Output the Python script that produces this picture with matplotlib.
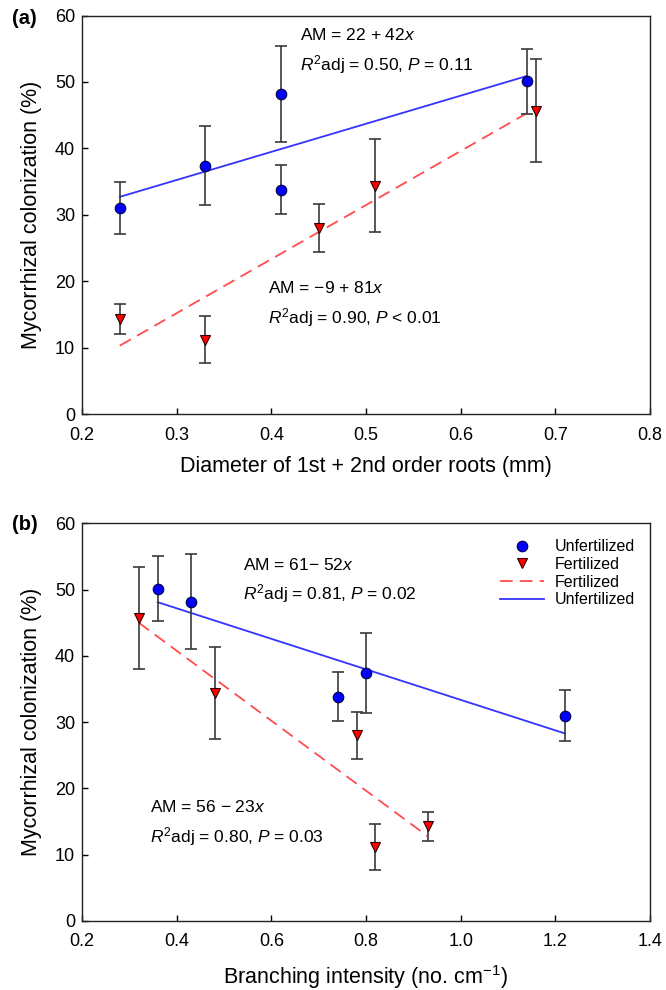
import matplotlib
matplotlib.use("Agg")
import matplotlib.pyplot as plt
from matplotlib.lines import Line2D

plt.rcParams['font.family'] = ['Liberation Sans', 'DejaVu Sans']
plt.rcParams['mathtext.fontset'] = 'custom'
plt.rcParams['mathtext.rm'] = 'Liberation Sans'
plt.rcParams['mathtext.it'] = 'Liberation Sans:italic'

# Panel (a): diameter of 1st + 2nd order roots
a_unf_x = [0.24, 0.33, 0.41, 0.41, 0.67]
a_unf_y = [31.0, 37.4, 48.2, 33.8, 50.1]
a_unf_err = [3.9, 6.0, 7.2, 3.7, 4.9]
a_fer_x = [0.24, 0.33, 0.45, 0.51, 0.68]
a_fer_y = [14.3, 11.2, 28.0, 34.4, 45.7]
a_fer_err = [2.2, 3.5, 3.6, 7.0, 7.7]
a_fit_unf_x = [0.24, 0.67]
a_fit_unf_y = [32.7, 50.9]
a_fit_fer_x = [0.24, 0.67]
a_fit_fer_y = [10.3, 45.3]

# Panel (b): branching intensity
b_unf_x = [0.36, 0.43, 0.74, 0.80, 1.22]
b_unf_y = [50.1, 48.2, 33.8, 37.4, 31.0]
b_unf_err = [4.9, 7.2, 3.7, 6.0, 3.9]
b_fer_x = [0.32, 0.48, 0.78, 0.82, 0.93]
b_fer_y = [45.7, 34.4, 28.0, 11.2, 14.3]
b_fer_err = [7.7, 7.0, 3.6, 3.5, 2.2]
b_fit_unf_x = [0.36, 1.22]
b_fit_unf_y = [48.1, 28.3]
b_fit_fer_x = [0.32, 0.93]
b_fit_fer_y = [45.0, 12.8]

a_xticks = [0.2, 0.3, 0.4, 0.5, 0.6, 0.7, 0.8]
a_xticklabels = ["0.2", "0.3", "0.4", "0.5", "0.6", "0.7", "0.8"]
b_xticks = [0.2, 0.4, 0.6, 0.8, 1.0, 1.2, 1.4]
b_xticklabels = ["0.2", "0.4", "0.6", "0.8", "1.0", "1.2", "1.4"]
yticks = [0, 10, 20, 30, 40, 50, 60]
legend_labels = ['Unfertilized', 'Fertilized', 'Fertilized', 'Unfertilized']

fig = plt.figure(figsize=(6.66, 9.9), dpi=100)
ax1 = fig.add_axes([0.1231, 0.5818, 0.8529, 0.4025])
ax2 = fig.add_axes([0.1231, 0.0697, 0.8529, 0.4017])

BLUE = '#0000ff'
RED = '#ff0000'
LBLUE = '#3333ff'
LRED = '#ff4d4d'
ERR = '#3a3a3a'
DASH = (0, (7, 4))


def draw(ax, ux, uy, ue, fx, fy, fe, lux, luy, lfx, lfy):
    ax.plot(lux, luy, color=LBLUE, lw=1.3, zorder=2)
    ax.plot(lfx, lfy, color=LRED, lw=1.3, ls=DASH, zorder=2)
    ax.errorbar(ux, uy, yerr=ue, fmt='none', ecolor=ERR, elinewidth=1.2,
                capsize=4.5, capthick=1.2, zorder=3)
    ax.errorbar(fx, fy, yerr=fe, fmt='none', ecolor=ERR, elinewidth=1.2,
                capsize=4.5, capthick=1.2, zorder=3)
    ax.plot(ux, uy, 'o', ms=7.6, mfc=BLUE, mec='#000040', mew=0.8, ls='none', zorder=4)
    ax.plot(fx, fy, 'v', ms=7.6, mfc=RED, mec='#300000', mew=0.8, ls='none', zorder=4)
    ax.set_ylim(0, 60)
    ax.set_yticks(yticks)
    ax.tick_params(direction='in', length=4, width=1, labelsize=13)
    ax.tick_params(axis='x', pad=9)
    ax.tick_params(axis='y', pad=5)
    for s in ax.spines.values():
        s.set_linewidth(1.0)
        s.set_color('#222222')
    ax.set_ylabel('Mycorrhizal colonization (%)', fontsize=15.5, labelpad=9)


draw(ax1, a_unf_x, a_unf_y, a_unf_err, a_fer_x, a_fer_y, a_fer_err,
     a_fit_unf_x, a_fit_unf_y, a_fit_fer_x, a_fit_fer_y)
ax1.set_xlim(0.2, 0.8)
ax1.set_xticks(a_xticks)
ax1.set_xticklabels(a_xticklabels)
ax1.set_xlabel('Diameter of 1st + 2nd order roots (mm)', fontsize=15.5, labelpad=9)
ax1.text(0.430, 56.3, r'AM = 22 + 42$\it{x}$', fontsize=12.5)
ax1.text(0.430, 51.7, r'$\it{R}^2$adj = 0.50, $\it{P}$ = 0.11', fontsize=12.5)
ax1.text(0.397, 18.2, r'AM = $-$9 + 81$\it{x}$', fontsize=12.5)
ax1.text(0.397, 13.6, r'$\it{R}^2$adj = 0.90, $\it{P}$ < 0.01', fontsize=12.5)

draw(ax2, b_unf_x, b_unf_y, b_unf_err, b_fer_x, b_fer_y, b_fer_err,
     b_fit_unf_x, b_fit_unf_y, b_fit_fer_x, b_fit_fer_y)
ax2.set_xlim(0.2, 1.4)
ax2.set_xticks(b_xticks)
ax2.set_xticklabels(b_xticklabels)
ax2.set_xlabel(r'Branching intensity (no. cm$^{-1}$)', fontsize=15.5, labelpad=9)
ax2.text(0.541, 53.0, r'AM = 61$-$ 52$\it{x}$', fontsize=12.5)
ax2.text(0.541, 48.5, r'$\it{R}^2$adj = 0.81, $\it{P}$ = 0.02', fontsize=12.5)
ax2.text(0.344, 16.5, r'AM = 56 $-$ 23$\it{x}$', fontsize=12.5)
ax2.text(0.344, 11.9, r'$\it{R}^2$adj = 0.80, $\it{P}$ = 0.03', fontsize=12.5)

handles = [
    Line2D([], [], marker='o', ls='none', ms=7.6, mfc=BLUE, mec='#000040', mew=0.8),
    Line2D([], [], marker='v', ls='none', ms=7.6, mfc=RED, mec='#300000', mew=0.8),
    Line2D([], [], color=LRED, lw=1.3, ls=DASH),
    Line2D([], [], color=LBLUE, lw=1.3),
]
ax2.legend(handles, legend_labels, loc='upper left', bbox_to_anchor=(0.736, 0.96),
           frameon=False, fontsize=11.5, handlelength=2.75, handletextpad=0.7,
           labelspacing=0.17, borderaxespad=0, borderpad=0)

fig.text(0.018, 0.981, '(a)', fontsize=14.5, fontweight='bold', va='center')
fig.text(0.018, 0.4707, '(b)', fontsize=14.5, fontweight='bold', va='center')

fig.savefig('out.png', dpi=100)
